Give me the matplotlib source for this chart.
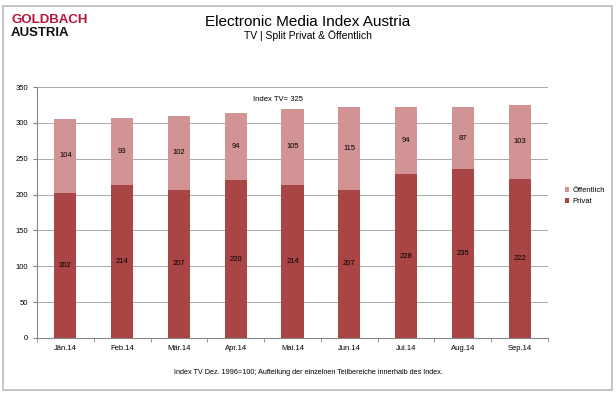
import matplotlib
matplotlib.use("Agg")
import matplotlib.pyplot as plt
from matplotlib.patches import Rectangle
from matplotlib import font_manager
import numpy as np

months = ["Jän.14", "Feb.14", "Mär.14", "Apr.14", "Mai.14", "Jun.14", "Jul.14", "Aug.14", "Sep.14"]
privat = [202, 214, 207, 220, 214, 207, 228, 235, 222]
oeffentlich = [104, 93, 102, 94, 105, 115, 94, 87, 103]

c_privat = "#A94545"
c_oeff = "#D29394"


def main():
    plt.rcParams['font.family'] = ['Liberation Sans', 'DejaVu Sans']
    names = {f.name for f in font_manager.fontManager.ttflist}
    logo_font = "Liberation Sans Narrow" if "Liberation Sans Narrow" in names else "Liberation Sans"
    fig = plt.figure(figsize=(6.16, 3.98), dpi=100)

    # outer frame
    fig.patches.append(Rectangle((3 / 616, 1 - 390 / 398), 609 / 616, 384 / 398,
                                 transform=fig.transFigure, fill=False,
                                 edgecolor="#BBBBBB", linewidth=1.2))

    # logo + titles
    fig.text(11 / 616, 1 - 20 / 398, "GOLDBACH", color="#B5173A", fontsize=9.5,
             fontweight="bold", va="center", ha="left", family=logo_font)
    fig.text(11 / 616, 1 - 33 / 398, "AUSTRIA", color="#111111", fontsize=9.5,
             fontweight="bold", va="center", ha="left", family=logo_font)
    fig.text(0.5, 1 - 22 / 398, "Electronic Media Index Austria", fontsize=11,
             ha="center", va="center")
    fig.text(0.5, 1 - 36 / 398, "TV | Split Privat & Öffentlich", fontsize=7.5,
             ha="center", va="center")

    ax = fig.add_axes([37 / 616, 1 - 338 / 398, 511 / 616, 251 / 398])
    x = np.arange(len(months))
    ax.bar(x, privat, width=0.39, color=c_privat, label="Privat", zorder=3)
    ax.bar(x, oeffentlich, width=0.39, bottom=privat, color=c_oeff,
           label="Öffentlich", zorder=3)

    for i in range(len(months)):
        ax.text(x[i], privat[i] / 2, str(privat[i]), ha="center", va="center",
                fontsize=5.5, zorder=4)
        ax.text(x[i], privat[i] + oeffentlich[i] / 2, str(oeffentlich[i]),
                ha="center", va="center", fontsize=5.5, zorder=4)

    ax.text(3.75, 333, "Index TV= 325", ha="center", va="center", fontsize=5.5)

    ax.set_xlim(-0.5, len(months) - 0.5)
    ax.set_ylim(0, 350)
    ax.set_yticks(range(0, 351, 50))
    ax.set_xticks(x)
    ax.set_xticklabels(months)
    ax.set_xticks(np.arange(-0.5, len(months), 1), minor=True)
    ax.tick_params(axis="x", which="major", length=0, labelsize=5.5, pad=5)
    ax.tick_params(axis="x", which="minor", length=3, color="#888888")
    ax.tick_params(axis="y", labelsize=5.5, length=3, color="#888888")
    ax.grid(axis="y", color="#AAAAAA", linewidth=0.7, zorder=0)
    for s in ["top", "right"]:
        ax.spines[s].set_visible(False)
    ax.spines["left"].set_color("#888888")
    ax.spines["bottom"].set_color("#888888")

    handles, labels = ax.get_legend_handles_labels()
    fig.legend(handles[::-1], labels[::-1], loc="center left",
               bbox_to_anchor=(558 / 616, 1 - 196 / 398), frameon=False,
               fontsize=5.5, handlelength=0.6, handleheight=0.6,
               handletextpad=0.4, labelspacing=0.5)

    fig.text(0.5, 1 - 372 / 398,
             "Index TV Dez. 1996=100; Aufteilung der einzelnen Teilbereiche innerhalb des Index.",
             ha="center", va="center", fontsize=5.2)

    fig.savefig("out.png", dpi=100)


if __name__ == "__main__":
    main()
